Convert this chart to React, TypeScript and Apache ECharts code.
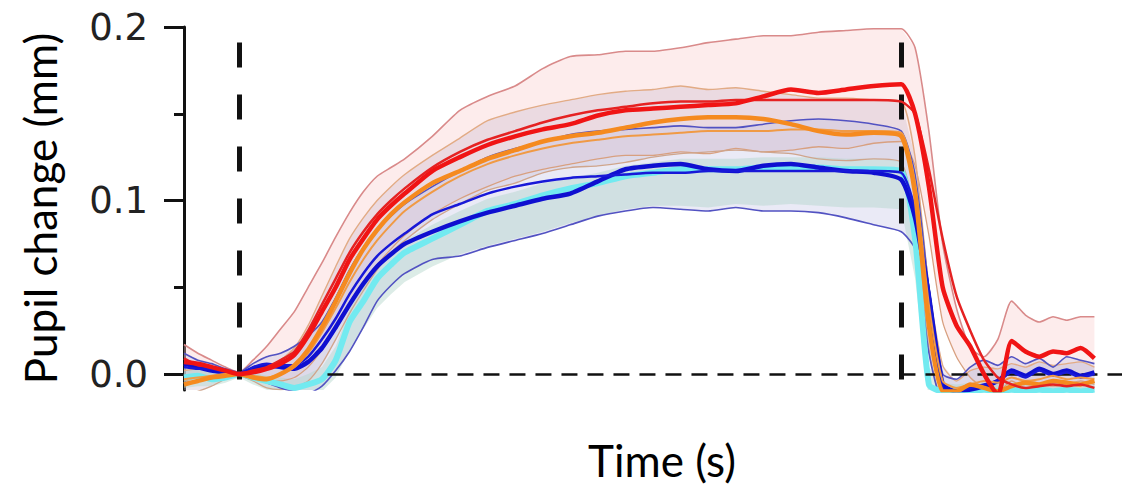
import { useEffect, useRef } from "react";
import * as echarts from "echarts";

// Time (s) sample points
const T = [
  -1, -0.75, -0.5, -0.25, 0, 0.25, 0.5, 0.75, 1, 1.25, 1.5, 1.75, 2, 2.25, 2.5, 2.75, 3,
  3.5, 4, 4.5, 5, 5.5, 6, 6.5, 7, 7.5, 8, 8.5, 9, 9.5, 10, 10.5, 11, 11.5, 12,
  12.25, 12.5, 12.75, 13, 13.25, 13.5, 13.75, 14, 14.25, 14.5, 14.75, 15, 15.25, 15.5,
];

const redMean = [
  0.007, 0.006, 0.004, 0.002, 0.0, 0.001, 0.003, 0.006, 0.011, 0.022, 0.036, 0.05, 0.066, 0.078, 0.089, 0.097, 0.104,
  0.117, 0.125, 0.132, 0.137, 0.141, 0.144, 0.149, 0.152, 0.153, 0.154, 0.155, 0.156, 0.16, 0.164, 0.162, 0.164, 0.166, 0.167,
  0.15, 0.108, 0.05, 0.028, 0.016, 0.0, -0.012, 0.019, 0.013, 0.01, 0.013, 0.012, 0.015, 0.009,
];
const redThin = [
  0.009, 0.005, 0.004, 0.002, 0.0, 0.002, 0.004, 0.008, 0.013, 0.025, 0.04, 0.055, 0.07, 0.082, 0.092, 0.1, 0.107,
  0.119, 0.128, 0.135, 0.14, 0.145, 0.149, 0.152, 0.154, 0.156, 0.157, 0.157, 0.158, 0.158, 0.158, 0.158, 0.158, 0.158, 0.157,
  0.15, 0.118, 0.078, 0.045, 0.025, 0.008, -0.002, -0.006, -0.008, -0.007, -0.006, -0.007, -0.006, -0.008,
];
const redUpper = [
  0.017, 0.012, 0.008, 0.004, 0.001, 0.008, 0.016, 0.026, 0.036, 0.05, 0.064, 0.079, 0.093, 0.105, 0.114, 0.119, 0.124,
  0.137, 0.152, 0.16, 0.166, 0.176, 0.183, 0.184, 0.186, 0.186, 0.188, 0.191, 0.193, 0.195, 0.195, 0.197, 0.198, 0.199, 0.199,
  0.188, 0.14, 0.075, 0.038, 0.015, 0.01, 0.02, 0.042, 0.034, 0.03, 0.033, 0.031, 0.033, 0.033,
];
const redLower = [
  -0.004, -0.002, -0.001, 0.0, -0.001, -0.003, -0.004, -0.004, -0.002, 0.004, 0.014, 0.027, 0.041, 0.053, 0.063, 0.072, 0.08,
  0.092, 0.101, 0.108, 0.114, 0.118, 0.121, 0.124, 0.126, 0.126, 0.128, 0.127, 0.13, 0.128, 0.129, 0.131, 0.13, 0.133, 0.134,
  0.12, 0.08, 0.03, 0.01, -0.002, -0.008, -0.01, -0.004, -0.008, -0.006, -0.007, -0.006, -0.004, -0.006,
];
const orangeMean = [
  -0.006, -0.004, -0.002, -0.001, 0.0, -0.002, -0.003, 0.0, 0.005, 0.014, 0.027, 0.042, 0.058, 0.072, 0.083, 0.092, 0.099,
  0.11, 0.117, 0.124, 0.129, 0.134, 0.137, 0.139, 0.142, 0.145, 0.147, 0.148, 0.148, 0.147, 0.144, 0.14, 0.138, 0.139, 0.137,
  0.104, 0.028, -0.01, -0.01, -0.006, -0.008, -0.01, -0.007, -0.005, -0.006, -0.004, -0.005, -0.006, -0.004,
];
const orangeThin = [
  -0.003, -0.002, -0.001, 0.0, 0.0, -0.001, -0.002, 0.0, 0.004, 0.012, 0.024, 0.038, 0.053, 0.066, 0.077, 0.086, 0.094,
  0.105, 0.114, 0.121, 0.126, 0.13, 0.133, 0.135, 0.137, 0.138, 0.139, 0.14, 0.14, 0.14, 0.141, 0.141, 0.14, 0.14, 0.139,
  0.11, 0.04, -0.004, -0.008, -0.006, -0.004, -0.005, -0.002, -0.004, -0.003, -0.001, -0.003, -0.002, -0.003,
];
const orangeUpper = [
  0.002, 0.003, 0.002, 0.001, 0.0, 0.002, 0.004, 0.008, 0.015, 0.028, 0.045, 0.062, 0.078, 0.09, 0.1, 0.108, 0.115,
  0.126, 0.136, 0.146, 0.151, 0.155, 0.158, 0.161, 0.163, 0.164, 0.166, 0.164, 0.165, 0.163, 0.161, 0.159, 0.159, 0.158, 0.157,
  0.125, 0.05, 0.005, -0.004, 0.002, 0.004, 0.003, 0.006, 0.004, 0.007, 0.005, 0.006, 0.007, 0.004,
];
const orangeLower = [
  -0.012, -0.01, -0.007, -0.003, -0.001, -0.004, -0.008, -0.009, -0.008, -0.004, 0.006, 0.02, 0.035, 0.048, 0.06, 0.07, 0.077,
  0.089, 0.098, 0.106, 0.11, 0.116, 0.119, 0.12, 0.122, 0.125, 0.127, 0.128, 0.129, 0.128, 0.127, 0.124, 0.123, 0.124, 0.122,
  0.09, 0.015, -0.015, -0.015, -0.014, -0.015, -0.016, -0.014, -0.015, -0.016, -0.014, -0.015, -0.016, -0.015,
];
const blueMeanA = [
  0.004, 0.003, 0.003, 0.001, 0.0, 0.004, 0.006, 0.005, 0.005, 0.01, 0.02, 0.032, 0.046, 0.058, 0.068, 0.075, 0.081,
  0.092, 0.098, 0.104, 0.108, 0.111, 0.113, 0.114, 0.115, 0.116, 0.116, 0.117, 0.117, 0.117, 0.117, 0.117, 0.117, 0.117, 0.116,
  0.095, 0.048, -0.008, -0.01, -0.008, -0.006, -0.004, 0.001, -0.002, 0.002, -0.001, 0.001, -0.002, 0.0,
];
const blueMeanB = [
  0.006, 0.004, 0.002, 0.001, 0.0, 0.003, 0.005, 0.004, 0.003, 0.007, 0.015, 0.027, 0.04, 0.052, 0.062, 0.069, 0.075,
  0.082, 0.088, 0.093, 0.097, 0.101, 0.104, 0.111, 0.118, 0.12, 0.121, 0.118, 0.117, 0.12, 0.121, 0.119, 0.117, 0.116, 0.112,
  0.09, 0.045, -0.006, -0.01, -0.009, -0.007, -0.004, 0.002, -0.001, 0.003, 0.0, 0.002, -0.001, 0.001,
];
const blueUpper = [
  0.012, 0.008, 0.006, 0.003, 0.001, 0.006, 0.01, 0.012, 0.016, 0.022, 0.03, 0.044, 0.06, 0.073, 0.083, 0.091, 0.098,
  0.108, 0.117, 0.125, 0.13, 0.134, 0.138, 0.14, 0.141, 0.142, 0.143, 0.142, 0.142, 0.144, 0.146, 0.147, 0.146, 0.144, 0.14,
  0.115, 0.05, 0.0, -0.003, 0.004, 0.008, 0.005, 0.01, 0.006, 0.009, 0.004, 0.01, 0.008, 0.006,
];
const blueLower = [
  -0.005, -0.004, -0.002, -0.001, 0.0, -0.002, -0.005, -0.008, -0.01, -0.011, -0.007, 0.002, 0.013, 0.027, 0.042, 0.051, 0.058,
  0.066, 0.068, 0.073, 0.077, 0.081, 0.086, 0.091, 0.094, 0.096, 0.095, 0.094, 0.096, 0.094, 0.094, 0.093, 0.09, 0.086, 0.082,
  0.072, 0.012, -0.015, -0.012, -0.01, -0.012, -0.011, -0.013, -0.012, -0.01, -0.012, -0.011, -0.013, -0.012,
];
const cyanMean = [
  -0.002, -0.001, -0.003, -0.002, 0.0, -0.002, -0.004, -0.006, -0.008, -0.006, -0.003, 0.008, 0.03, 0.042, 0.055, 0.063, 0.07,
  0.078, 0.086, 0.094, 0.098, 0.103, 0.107, 0.11, 0.114, 0.116, 0.118, 0.118, 0.118, 0.119, 0.119, 0.119, 0.118, 0.118, 0.117,
  0.078, -0.006, -0.01, -0.009, -0.01, -0.009, -0.01, -0.009, -0.01, -0.009, -0.01, -0.009, -0.01, -0.009,
];
const cyanUpper = [
  0.004, 0.003, 0.001, 0.001, 0.001, 0.001, -0.001, -0.002, -0.003, 0.0, 0.004, 0.016, 0.037, 0.05, 0.062, 0.07, 0.077,
  0.086, 0.094, 0.101, 0.105, 0.11, 0.113, 0.116, 0.12, 0.122, 0.124, 0.124, 0.124, 0.125, 0.125, 0.125, 0.124, 0.124, 0.123,
  0.085, 0.004, -0.005, -0.006, -0.005, -0.005, -0.005, -0.005, -0.005, -0.005, -0.005, -0.005, -0.005, -0.005,
];
const cyanLower = [
  -0.008, -0.007, -0.007, -0.005, -0.002, -0.006, -0.009, -0.012, -0.014, -0.013, -0.01, -0.002, 0.014, 0.026, 0.038, 0.046, 0.053,
  0.062, 0.069, 0.074, 0.078, 0.082, 0.087, 0.091, 0.095, 0.097, 0.097, 0.096, 0.098, 0.097, 0.098, 0.097, 0.096, 0.096, 0.095,
  0.055, -0.015, -0.015, -0.015, -0.015, -0.015, -0.015, -0.015, -0.015, -0.015, -0.015, -0.015, -0.015, -0.015,
];

// Axis / annotation values
const xMin = -1;
const xMax = 16;
const yMin = -0.0092;
const yMax = 0.2;
const yTicks = [0, 0.1, 0.2];
const yMinorTicks = [0.05, 0.15];
const stimOn = 0;
const stimOff = 12;
const stimLineTop = 0.191;
const stimLineBottom = -0.0035;
const zeroLineStart = 1.6;

export default function App() {
  const ref = useRef<HTMLDivElement>(null);

  useEffect(() => {
    const chart = echarts.init(ref.current as HTMLDivElement, null, { renderer: "svg" });
    const pts = (arr: number[]) => T.map((t, i) => [t, arr[i]]);

    const band = (upper: number[], lower: number[], fill: string, z: number) => ({
      type: "custom",
      z,
      clip: true,
      silent: true,
      data: [[T[0], 0]],
      encode: { x: 0, y: 1 },
      renderItem: (_params: any, api: any) => {
        const top = T.map((t, i) => api.coord([t, upper[i]]));
        const bot = T.map((t, i) => api.coord([t, lower[i]])).reverse();
        return {
          type: "polygon",
          shape: { points: top.concat(bot) },
          style: { fill, stroke: "none" },
        };
      },
    });

    const line = (arr: number[], color: string, width: number, z: number) => ({
      type: "line",
      data: pts(arr),
      symbol: "none",
      showSymbol: false,
      smooth: 0.2,
      z,
      silent: true,
      lineStyle: { color, width },
    });

    const dash = "#111111";

    chart.setOption({
      animation: false,
      textStyle: { fontFamily: "Lato" },
      grid: { left: 184, right: 5, top: 27, bottom: 96, containLabel: false, outerBoundsMode: "none" },
      xAxis: { type: "value", min: xMin, max: xMax, show: false },
      yAxis: [
        {
          type: "value",
          min: yMin,
          max: yMax,
          position: "left",
          axisLine: { show: true, onZero: false, lineStyle: { color: "#111", width: 3 } },
          axisTick: { show: true, customValues: yTicks, length: 20, lineStyle: { color: "#111", width: 3 } },
          axisLabel: {
            show: true,
            customValues: yTicks,
            formatter: (v: number) => v.toFixed(1),
            fontSize: 37,
            fontFamily: "DejaVu Sans",
            color: "#222",
            margin: 36,
          },
          splitLine: { show: false },
          name: "Pupil change (mm)",
          nameLocation: "middle",
          nameGap: 122,
          nameTextStyle: { fontSize: 44, fontFamily: "Lato", color: "#000" },
        },
        {
          type: "value",
          min: yMin,
          max: yMax,
          position: "left",
          axisLine: { show: false, onZero: false },
          axisTick: { show: true, customValues: yMinorTicks, length: 10, lineStyle: { color: "#111", width: 3 } },
          axisLabel: { show: false },
          splitLine: { show: false },
        },
      ],
      graphic: [
        {
          type: "text",
          x: 662,
          y: 460,
          style: {
            text: "Time (s)",
            fontSize: 44,
            fontFamily: "Lato",
            fill: "#000",
            textAlign: "center",
            textVerticalAlign: "middle",
          },
        },
      ],
      series: [
        {
          type: "line",
          data: [],
          z: 1,
          silent: true,
          markLine: {
            silent: true,
            symbol: ["none", "none"],
            label: { show: false },
            data: [
              [
                { coord: [zeroLineStart, 0], lineStyle: { type: [16, 10], color: dash, width: 2.5 } },
                { coord: [xMax, 0] },
              ],
              [
                { coord: [stimOn, stimLineTop], lineStyle: { type: [25, 27], color: dash, width: 5 } },
                { coord: [stimOn, stimLineBottom] },
              ],
              [
                { coord: [stimOff, stimLineTop], lineStyle: { type: [25, 27], color: dash, width: 5 } },
                { coord: [stimOff, stimLineBottom] },
              ],
            ],
          },
        },
        band(redUpper, redLower, "rgba(248, 200, 200, 0.35)", 2),
        band(orangeUpper, orangeLower, "rgba(200, 185, 205, 0.35)", 2),
        band(blueUpper, blueLower, "rgba(190, 190, 228, 0.32)", 2),
        band(cyanUpper, cyanLower, "rgba(178, 212, 202, 0.45)", 2),
        line(redUpper, "#d98a8a", 1.6, 3),
        line(redLower, "#d8a080", 1.3, 3),
        line(orangeUpper, "#e2ab85", 1.4, 3),
        line(orangeLower, "#cfa58c", 1.3, 3),
        line(blueUpper, "#5252c2", 1.6, 3),
        line(blueLower, "#5252c2", 1.6, 3),
        line(cyanMean, "#72eaf0", 6, 4),
        line(blueMeanB, "#0f0fd0", 4.5, 5),
        line(blueMeanA, "#1818d8", 2.5, 5),
        line(orangeThin, "#f09a45", 2, 6),
        line(orangeMean, "#f58a1f", 4.5, 6),
        line(redThin, "#e52222", 2.5, 7),
        line(redMean, "#f01414", 4.5, 7),
      ],
    });

    return () => chart.dispose();
  }, []);

  return (
    <div
      ref={ref}
      style={{ position: "absolute", left: 0, top: 0, width: "1127px", height: "486px" }}
    />
  );
}
